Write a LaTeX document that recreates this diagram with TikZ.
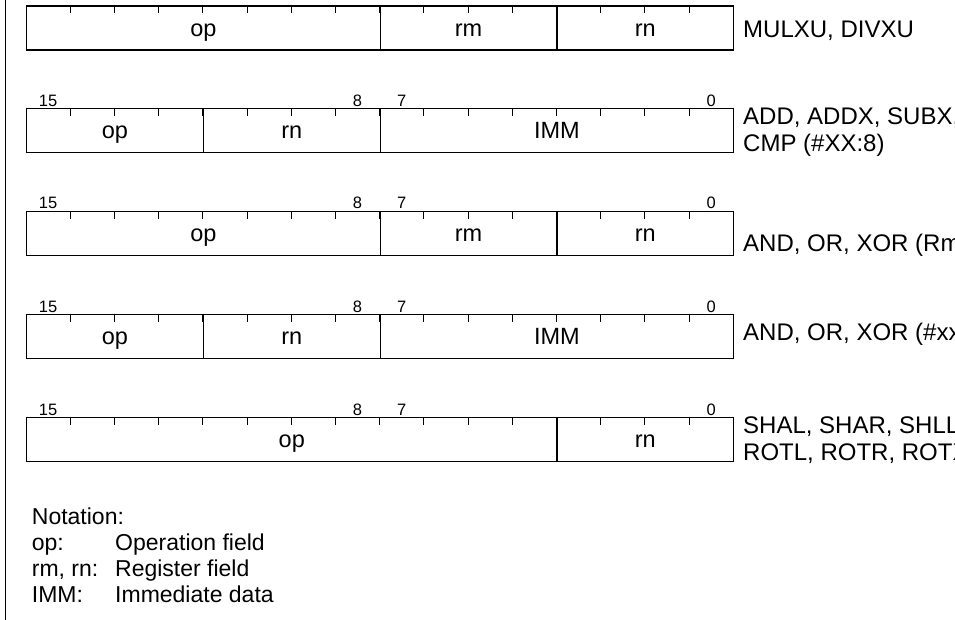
\documentclass[tikz,border=0pt]{standalone}
\usepackage{fontspec}
\setmainfont{Liberation Sans}

% width of one bit cell
\newcommand{\bitw}{44.2}

\tikzset{
  field/.style={draw, line width=1.1pt, anchor=north west, inner sep=0pt,
    minimum height=44pt, text height=16pt, text depth=0pt,
    font=\fontsize{23.5}{27}\selectfont},
  bittick/.style={line width=0.8pt},
  bitnum/.style={anchor=base, inner sep=0pt, font=\fontsize{16.5}{18}\selectfont},
  insn/.style={anchor=base west, inner sep=0pt, align=left,
    font=\fontsize{24}{27}\selectfont},
  notes/.style={anchor=base west, inner sep=0pt, font=\fontsize{23}{26}\selectfont},
}

\begin{document}
\begin{tikzpicture}[x=1pt, y=-1pt]
    \path[use as bounding box] (0,0) rectangle (955,620);
    \clip (0,0) rectangle (955,620);

    % rule down the left side
    \draw[line width=1.2pt] (5.7,0) -- (5.7,620);

    % Row 1: op / rm / rn
    \node[field, minimum width=8*\bitw pt] (op1) at (26,5.5) {op};
    \node[field, minimum width=4*\bitw pt] (rm1) at (26+8*\bitw,5.5) {rm};
    \node[field, minimum width=4*\bitw pt] (rn1) at (26+12*\bitw,5.5) {rn};
    \node[insn] (ins1) at (743,38) {MULXU, DIVXU};

    % Row 2: op / rn / IMM
    \node[field, minimum width=4*\bitw pt] (op2) at (26,108.3) {op};
    \node[field, minimum width=4*\bitw pt] (rn2) at (26+4*\bitw,108.3) {rn};
    \node[field, minimum width=8*\bitw pt] (imm2) at (26+8*\bitw,108.3) {IMM};
    \node[insn] (ins2) at (743,151.3) {ADD, ADDX, SUBX,\\CMP (\#XX:8)};

    % Row 3: op / rm / rn
    \node[field, minimum width=8*\bitw pt] (op3) at (26,211) {op};
    \node[field, minimum width=4*\bitw pt] (rm3) at (26+8*\bitw,211) {rm};
    \node[field, minimum width=4*\bitw pt] (rn3) at (26+12*\bitw,211) {rn};
    \node[insn] (ins3) at (743,251.7) {AND, OR, XOR (Rm};

    % Row 4: op / rn / IMM
    \node[field, minimum width=4*\bitw pt] (op4) at (26,314) {op};
    \node[field, minimum width=4*\bitw pt] (rn4) at (26+4*\bitw,314) {rn};
    \node[field, minimum width=8*\bitw pt] (imm4) at (26+8*\bitw,314) {IMM};
    \node[insn] (ins4) at (743,340) {AND, OR, XOR (\#xx};

    % Row 5: op / rn
    \node[field, minimum width=12*\bitw pt] (op5) at (26,417) {op};
    \node[field, minimum width=4*\bitw pt] (rn5) at (26+12*\bitw,417) {rn};
    \node[insn] (ins5) at (743,460) {SHAL, SHAR, SHLL\\ROTL, ROTR, ROTX};

    % bit ticks along the top edge of every row
    \foreach \y in {5.5,108.3,211,314,417}
        \foreach \i in {1,...,15}
            \draw[bittick] (26+\i*\bitw,\y) -- ++(0,8);

    % bit numbers
    \foreach \y/\r in {108.3/2,211/3,314/4,417/5} {
        \node[bitnum] (b15-\r) at (26+0.5*\bitw,\y-2) {15};
        \node[bitnum] (b8-\r)  at (26+7.5*\bitw,\y-2) {8};
        \node[bitnum] (b7-\r)  at (26+8.5*\bitw,\y-2) {7};
        \node[bitnum] (b0-\r)  at (26+15.5*\bitw,\y-2) {0};
    }

    % legend
    \node[notes] (nota) at (31.7,524) {Notation:};
    \node[notes] (k1) at (31.7,550) {op:};
    \node[notes] (v1) at (115,550) {Operation field};
    \node[notes] (k2) at (31.7,576) {rm, rn:};
    \node[notes] (v2) at (115,576) {Register field};
    \node[notes] (k3) at (31.7,602) {IMM:};
    \node[notes] (v3) at (115,602) {Immediate data};
\end{tikzpicture}
\end{document}
